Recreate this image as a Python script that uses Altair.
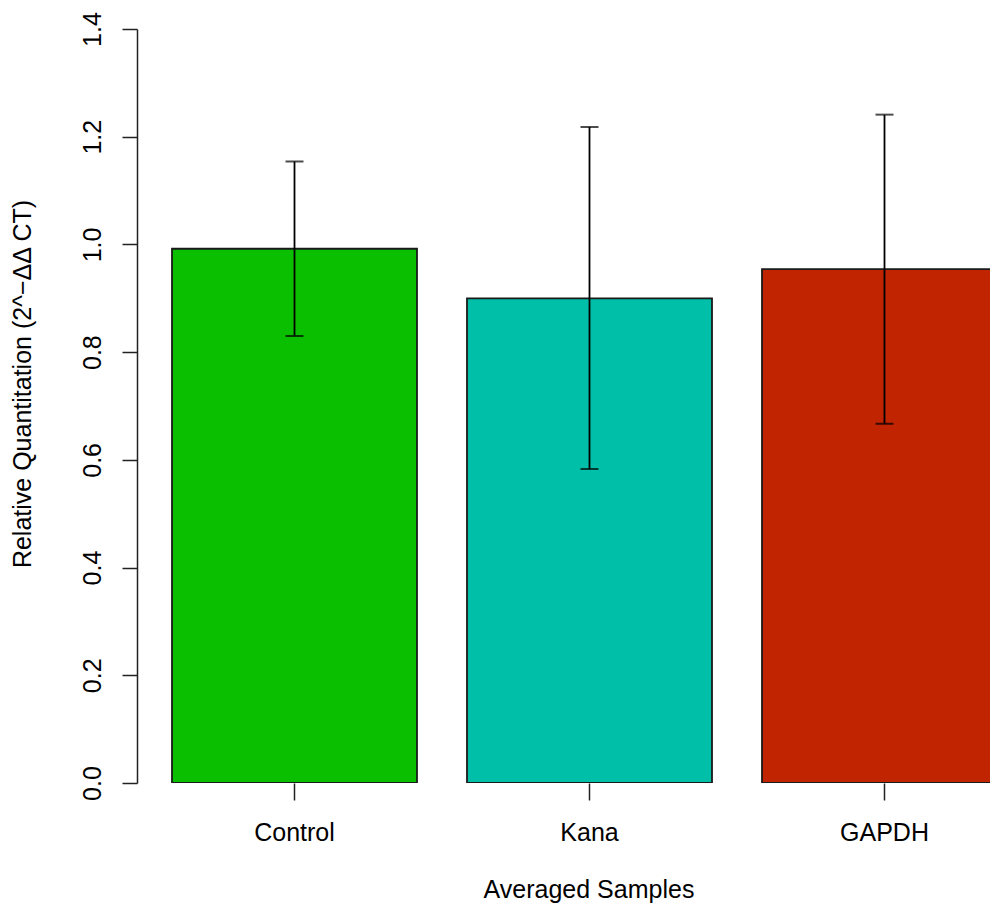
import altair as alt
import pandas as pd

categories = ["Control", "Kana", "GAPDH"]
means = [0.992, 0.900, 0.954]
upper = [1.154, 1.218, 1.241]
lower = [0.830, 0.583, 0.667]
colors = ["#0ABF00", "#00BFA8", "#C02400"]
y_ticks = [0.0, 0.2, 0.4, 0.6, 0.8, 1.0, 1.2, 1.4]

df = pd.DataFrame({"cat": categories, "mean": means, "upper": upper, "lower": lower})

FONT = "Liberation Sans"
W, H = 853, 754
SVG_H = 897
TOP = 21

xscale = alt.Scale(domain=categories, range=[35, 870], paddingInner=0.1695, paddingOuter=0)
yscale = alt.Scale(domain=[0, 1.4], nice=False, zero=True)

x_axis = alt.Axis(
    title="Averaged Samples", domain=False, ticks=True, tickSize=17, tickColor="#222",
    tickWidth=1.5, labelFontSize=25, labelFont=FONT, labelColor="black",
    labelAngle=0, labelBaseline="alphabetic", labelPadding=40,
    titleFont=FONT, titleFontSize=25, titleFontWeight="normal", titleColor="black",
    titleBaseline="alphabetic", titleAnchor="start", titleAlign="center",
    titleX=451.5, titleY=114, grid=False,
)
y_axis = alt.Axis(
    title="Relative Quantitation (2^\u2212\u0394\u0394 CT)", values=y_ticks, format=".1f",
    domain=True, domainColor="#222", domainWidth=1.5, ticks=True, tickSize=15,
    tickColor="#222", tickWidth=1.5, labelFontSize=25, labelFont=FONT, labelColor="black",
    labelAngle=270, labelAlign="center", labelBaseline="alphabetic", labelPadding=22,
    titleFont=FONT, titleFontSize=25, titleFontWeight="normal", titleColor="black",
    titleAngle=270, titleBaseline="alphabetic", titleAlign="center",
    titleX=-107, titleY=354.5, grid=False,
)

base = alt.Chart(df)

bars = base.mark_bar(stroke="#1a1a1a", strokeWidth=1.8, clip=True).encode(
    x=alt.X("cat:N", scale=xscale, axis=x_axis, sort=categories),
    y=alt.Y("mean:Q", scale=yscale, axis=y_axis),
    color=alt.Color("cat:N", scale=alt.Scale(domain=categories, range=colors), legend=None),
)

rules = base.mark_rule(color="black", strokeWidth=1.8).encode(
    x=alt.X("cat:N", scale=xscale, sort=categories),
    y=alt.Y("lower:Q", scale=yscale),
    y2="upper:Q",
)

caps_hi = base.mark_tick(color="black", size=18, thickness=2, orient="horizontal").encode(
    x=alt.X("cat:N", scale=xscale, sort=categories),
    y=alt.Y("upper:Q", scale=yscale),
)
caps_lo = base.mark_tick(color="black", size=18, thickness=2, orient="horizontal").encode(
    x=alt.X("cat:N", scale=xscale, sort=categories),
    y=alt.Y("lower:Q", scale=yscale),
)

chart = alt.layer(bars, rules, caps_hi, caps_lo).properties(
    width=W, height=H,
    autosize=alt.AutoSizeParams(type="none"),
    padding={"left": 129, "top": TOP, "right": 0, "bottom": SVG_H - TOP - H},
    background="white",
).configure_view(strokeWidth=0)

chart.save("out.html", embed_options={"renderer": "svg", "actions": False})
